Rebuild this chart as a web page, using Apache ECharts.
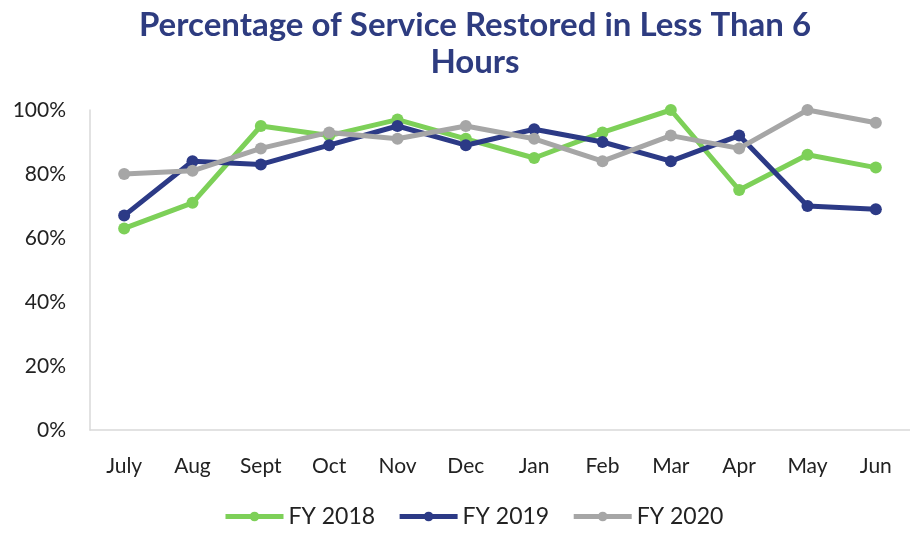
<!DOCTYPE html>
<html>
<head>
<meta charset="utf-8">
<script src="https://cdn.jsdelivr.net/npm/echarts@6/dist/echarts.min.js"></script>
<style>html,body{margin:0;padding:0;background:#fff;}#c{width:910px;height:534px;}</style>
</head>
<body>
<div id="c"></div>
<script>
const categories = ['July','Aug','Sept','Oct','Nov','Dec','Jan','Feb','Mar','Apr','May','Jun'];
const fy2018 = [63,71,95,92,97,91,85,93,100,75,86,82];
const fy2019 = [67,84,83,89,95,89,94,90,84,92,70,69];
const fy2020 = [80,81,88,93,91,95,91,84,92,88,100,96];
const seriesNames = ['FY 2018','FY 2019','FY 2020'];
const colors = ['#7dd058','#2c3a86','#a6a6a6'];

const chart = echarts.init(document.getElementById('c'));
const mk = (name, data, color) => ({
  name, type: 'line', data,
  symbol: 'circle', symbolSize: 12,
  lineStyle: {width: 5, color},
  itemStyle: {color},
  emphasis: {disabled: true}
});
chart.setOption({
  animation: false,
  title: {
    text: 'Percentage of Service Restored in Less Than 6\nHours',
    left: 470, top: 2, textAlign: 'center',
    textStyle: {fontFamily: 'Lato', fontWeight: 'bold', fontSize: 33, color: '#2e3c80', lineHeight: 37}
  },
  legend: {
    data: seriesNames,
    bottom: 1, left: 218, width: 600,
    itemWidth: 58, itemHeight: 12, itemGap: 22,
    lineStyle: {width: 5},
    textStyle: {fontFamily: 'Lato', fontSize: 23, color: '#222'}
  },
  grid: {left: 90, right: -9, top: 110, bottom: 104, containLabel: false},
  xAxis: {
    type: 'category', data: categories, boundaryGap: true,
    axisLine: {lineStyle: {color: '#d9d9d9', width: 1.5}},
    axisTick: {show: false},
    axisLabel: {fontFamily: 'Lato', fontSize: 21, color: '#222', margin: 26}
  },
  yAxis: {
    type: 'value', min: 0, max: 100, interval: 20,
    axisLine: {show: true, lineStyle: {color: '#d9d9d9', width: 1.5}},
    axisTick: {show: false},
    splitLine: {show: false},
    axisLabel: {fontFamily: 'Lato', fontSize: 21, color: '#222', margin: 24, formatter: '{value}%'}
  },
  series: [mk(seriesNames[0], fy2018, colors[0]), mk(seriesNames[1], fy2019, colors[1]), mk(seriesNames[2], fy2020, colors[2])]
});
</script>
</body>
</html>
